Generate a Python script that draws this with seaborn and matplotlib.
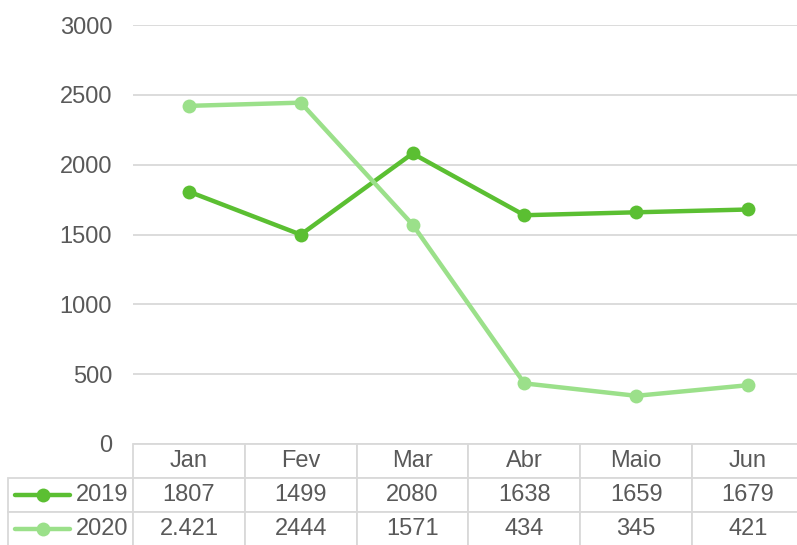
import pandas as pd
import seaborn as sns
import matplotlib.pyplot as plt
from matplotlib.lines import Line2D

# Data
months = ['Jan', 'Fev', 'Mar', 'Abr', 'Maio', 'Jun']
vals_2019 = [1807, 1499, 2080, 1638, 1659, 1679]
vals_2020 = [2421, 2444, 1571, 434, 345, 421]
labels_2019 = ['1807', '1499', '2080', '1638', '1659', '1679']
labels_2020 = ['2.421', '2444', '1571', '434', '345', '421']
years = ['2019', '2020']
yticks = [0, 500, 1000, 1500, 2000, 2500, 3000]

colors = {'2019': '#5bbf32', '2020': '#9be08a'}
grey = '#595959'
grid_col = '#d9d9d9'

df = pd.DataFrame({
    'mes': months * 2,
    'x': list(range(len(months))) * 2,
    'valor': vals_2019 + vals_2020,
    'ano': ['2019'] * 6 + ['2020'] * 6,
})

sns.set_style('white')
plt.rcParams['font.family'] = ['Liberation Sans', 'DejaVu Sans']

W, H = 797, 545
fig = plt.figure(figsize=(W / 100, H / 100), dpi=100)
# axes run a little past the right edge, as in the original
ax_l, ax_r, ax_t, ax_b = 133, 804, 25, 444
ax = fig.add_axes([ax_l / W, 1 - ax_b / H, (ax_r - ax_l) / W, (ax_b - ax_t) / H])

sns.lineplot(data=df, x='x', y='valor', hue='ano', palette=colors,
             marker='o', markersize=10, markeredgewidth=0, linewidth=3.2,
             ax=ax, legend=False)

ax.set_xlim(-0.5, 5.5)
ax.set_ylim(0, 3000)
ax.set_yticks(yticks)
ax.set_yticklabels([str(t) for t in yticks])
ax.set_xticks([])
ax.set_xlabel('')
ax.set_ylabel('')
ax.tick_params(axis='y', length=0, pad=15, labelsize=17, labelcolor=grey)
ax.grid(axis='y', color=grid_col, linewidth=1.3)
ax.set_axisbelow(True)
for s in ax.spines.values():
    s.set_visible(False)

# data table below the plot
ax_w = ax_r - ax_l
ax_h = ax_b - ax_t
tbl_left = 8
tbl_h = 102
cell_text = [[''] + months,
             ['2019'] + labels_2019,
             ['2020'] + labels_2020]
first_w = ax_l - tbl_left
col_w = [first_w / (ax_w + first_w)] + [ax_w / 6 / (ax_w + first_w)] * 6
tbl = ax.table(cellText=cell_text, colWidths=col_w, cellLoc='center',
               bbox=[-first_w / ax_w, -tbl_h / ax_h, (ax_w + first_w) / ax_w, tbl_h / ax_h])
tbl.auto_set_font_size(False)
for (r, c), cell in tbl.get_celld().items():
    cell.set_edgecolor(grid_col)
    cell.set_linewidth(1.3)
    cell.get_text().set_fontsize(17)
    cell.get_text().set_color(grey)
    if r == 0 and c == 0:
        cell.set_visible(False)
    if c == 0 and r > 0:
        cell.get_text().set_ha('right')
        cell._loc = 'right'
        cell.PAD = 0.035

# legend keys inside the row-label cells
row_centres = [ax_b + tbl_h * 1.5 / 3, ax_b + tbl_h * 2.5 / 3]
for yr, yc in zip(years, row_centres):
    fy = 1 - yc / H
    fig.add_artist(Line2D([15 / W, 70 / W], [fy, fy], color=colors[yr], linewidth=3.2,
                          transform=fig.transFigure))
    fig.add_artist(Line2D([42.5 / W], [fy], color=colors[yr], marker='o', markersize=10,
                          markeredgewidth=0, transform=fig.transFigure))

fig.savefig('out.png', dpi=100)
